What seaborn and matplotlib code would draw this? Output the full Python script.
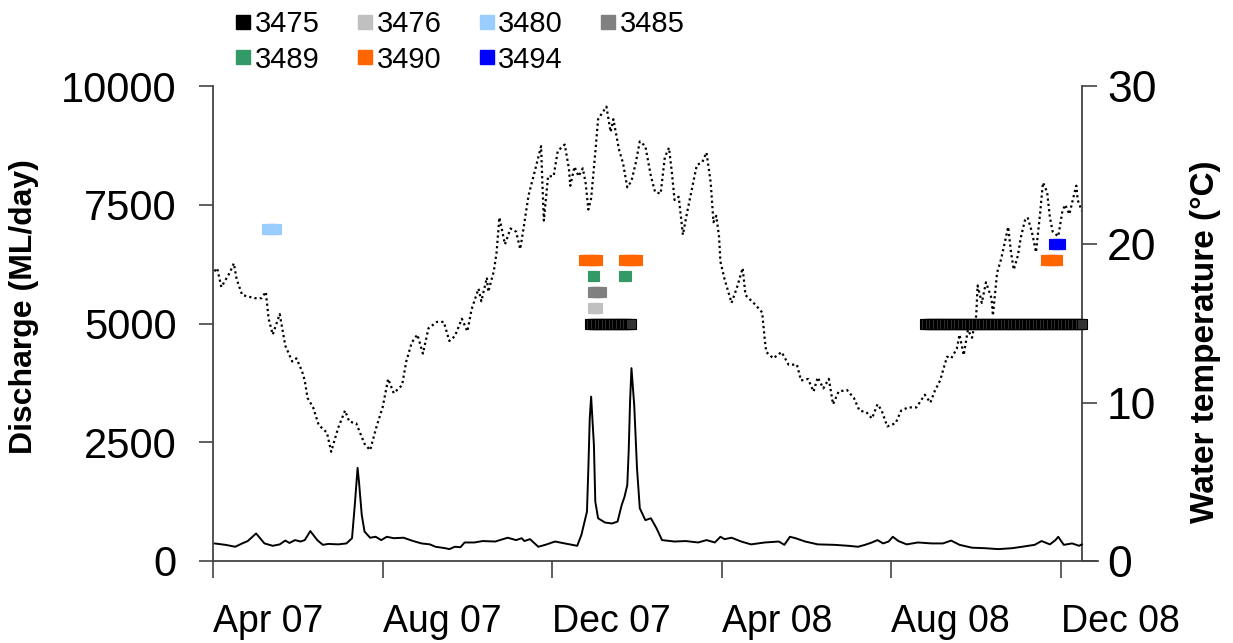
import pandas as pd
import matplotlib
matplotlib.use("Agg")
import matplotlib.pyplot as plt
import matplotlib.dates as mdates
from matplotlib.lines import Line2D
import seaborn as sns

# Dados (dias contados a partir de 1 Abr 2007)
start = pd.Timestamp("2007-04-01")
axis_end_day = 625      # eixo direito
xline_end_day = 636.6   # fim da linha do eixo x

flow_day = [1, 9, 16, 21, 25, 31, 37, 43, 48, 52,
            55, 59, 63, 66, 70, 75, 79, 83, 90, 96,
            100, 102, 104, 105, 107, 109, 113, 117, 121, 125,
            130, 137, 144, 150, 156, 160, 167, 170, 174, 178,
            181, 188, 194, 203, 212, 218, 222, 224, 228, 234,
            239, 246, 253, 262, 265, 269, 270, 271, 272, 274,
            275, 277, 282, 287, 291, 294, 296, 298, 299, 300,
            301, 303, 305, 307, 311, 315, 319, 323, 332, 340,
            349, 355, 361, 365, 368, 373, 380, 387, 397, 407,
            411, 415, 419, 426, 435, 447, 457, 464, 469, 474,
            478, 482, 486, 489, 493, 499, 507, 517, 525, 531,
            537, 546, 555, 565, 575, 582, 591, 596, 602, 606,
            608, 612, 618, 623, 625]
flow_val = [370, 340, 300, 370, 420, 580, 370, 320, 350, 430,
            380, 440, 410, 440, 630, 440, 340, 360, 350, 370,
            480, 1180, 1960, 1670, 970, 620, 490, 510, 440, 510,
            480, 490, 420, 370, 350, 300, 270, 250, 300, 290,
            390, 390, 420, 410, 490, 440, 480, 420, 460, 300,
            340, 410, 370, 320, 550, 1040, 1950, 3000, 3460, 2440,
            1250, 900, 810, 790, 830, 1180, 1350, 1600, 2300, 3350,
            4060, 3280, 1950, 1110, 860, 900, 690, 440, 410, 420,
            390, 440, 390, 510, 460, 490, 410, 350, 390, 410,
            340, 510, 480, 410, 350, 340, 320, 300, 340, 390,
            440, 370, 410, 510, 420, 350, 390, 370, 370, 430,
            340, 280, 270, 250, 270, 300, 340, 420, 350, 440,
            510, 340, 370, 320, 350]

temp_day = [1, 3, 6, 12, 15, 17, 21, 30, 35, 38, 40, 43, 48, 52, 57, 60, 64, 66, 68, 72,
            76, 82, 85, 90, 95, 98, 103, 109, 113, 118, 122, 126, 130, 136, 139, 143, 147, 151, 155, 161,
            166, 170, 174, 179, 183, 186, 191, 193, 197, 198, 202, 204, 206, 210, 214, 218, 221, 223, 227, 232,
            236, 237, 238, 241, 245, 248, 253, 256, 257, 260, 263, 266, 268, 270, 272, 275, 277, 280, 283, 286,
            288, 292, 295, 298, 301, 304, 307, 311, 315, 318, 322, 325, 328, 330, 332, 335, 338, 341, 344, 348,
            352, 355, 358, 360, 362, 364, 365, 368, 373, 377, 381, 383, 390, 395, 397, 398, 403, 409, 414, 420,
            423, 428, 432, 435, 439, 443, 446, 450, 456, 461, 465, 470, 474, 478, 481, 485, 491, 495, 500, 506,
            512, 516, 519, 523, 528, 531, 535, 537, 540, 543, 546, 549, 550, 553, 556, 560, 561, 564, 567, 572,
            574, 576, 579, 581, 584, 586, 589, 592, 595, 597, 600, 602, 604, 608, 611, 613, 616, 619, 621, 622,
            625]
temp_val = [18.3, 18.5, 17.3, 18.2, 18.8, 17.8, 16.8, 16.6, 16.6, 17.0, 15.3, 14.3, 15.6, 13.6, 12.6, 12.8, 12.0, 11.4, 10.3, 9.7,
            8.6, 8.1, 6.9, 8.4, 9.5, 8.8, 8.7, 7.4, 7.0, 8.6, 9.7, 11.5, 10.6, 11.1, 12.6, 13.8, 14.3, 13.1, 14.7, 15.1,
            15.1, 13.9, 14.2, 15.3, 14.5, 15.9, 17.2, 16.4, 17.9, 17.0, 18.3, 19.5, 21.7, 20.0, 21.0, 20.8, 19.7, 20.8, 23.1, 24.8,
            26.2, 23.7, 21.5, 24.3, 24.3, 25.9, 26.3, 24.8, 23.7, 24.9, 24.3, 24.8, 23.9, 22.2, 22.9, 25.8, 27.9, 28.3, 28.7, 27.1,
            27.9, 26.0, 25.1, 23.6, 24.0, 25.1, 26.5, 26.2, 24.3, 23.3, 23.2, 25.5, 26.1, 24.6, 22.8, 23.0, 20.6, 22.0, 23.3, 25.0,
            25.2, 25.8, 23.9, 21.4, 21.8, 20.5, 18.9, 17.8, 16.3, 17.3, 18.5, 16.8, 16.2, 15.7, 13.9, 13.2, 12.8, 13.2, 12.4, 12.4,
            11.4, 11.5, 10.7, 11.6, 10.9, 11.5, 9.9, 10.7, 10.8, 10.3, 9.5, 9.4, 9.0, 9.9, 9.5, 8.5, 8.7, 9.5, 9.7, 9.7,
            10.5, 10.0, 10.7, 11.4, 12.9, 12.8, 13.4, 14.3, 13.0, 14.6, 14.1, 15.5, 17.4, 16.3, 17.6, 16.6, 15.5, 18.2, 19.1, 21.1,
            19.5, 18.4, 19.3, 20.4, 21.5, 21.7, 20.8, 19.5, 22.0, 23.9, 23.3, 21.7, 20.8, 20.5, 22.1, 22.5, 21.9, 23.0, 23.7, 22.8,
            22.1]

sites = ["3475", "3476", "3480", "3485", "3489", "3490", "3494"]
site_colors = ["#333333", "#C0C0C0", "#99CCFF", "#808080", "#339966", "#FF6600", "#0000FF"]
site_edges = ["#000000", "#C0C0C0", "#99CCFF", "#808080", "#339966", "#FF6600", "#0000FF"]
site_level = [5000, 5333, 7000, 5667, 6000, 6333, 6667]
site_periods = [
    [("2007-12-28", "2008-01-27"), ("2008-08-25", "2008-12-16")],
    [("2007-12-30", "2008-01-02")],
    [("2007-05-10", "2007-05-16")],
    [("2007-12-30", "2008-01-05")],
    [("2007-12-30", "2007-12-31"), ("2008-01-22", "2008-01-23")],
    [("2007-12-24", "2008-01-02"), ("2008-01-22", "2008-01-31"), ("2008-11-20", "2008-11-28")],
    [("2008-11-26", "2008-11-30")],
]

tick_dates = ["2007-04-01", "2007-08-01", "2007-12-01", "2008-04-01", "2008-08-01", "2008-12-01"]
tick_labels = ["Apr 07", "Aug 07", "Dec 07", "Apr 08", "Aug 08", "Dec 08"]

flow_dates = start + pd.to_timedelta(flow_day, unit="D")
temp_dates = start + pd.to_timedelta(temp_day, unit="D")

sns.set_style("ticks")
plt.rcParams["font.family"] = ["Liberation Sans", "DejaVu Sans"]
plt.rcParams["text.color"] = "black"
plt.rcParams["axes.labelcolor"] = "black"
axis_col = "#444444"

fig = plt.figure(figsize=(12.33, 6.43), dpi=100)
ax = fig.add_axes([213 / 1233, 82 / 643, 885 / 1233, 475 / 643])
ax2 = ax.twinx()

# temperatura (eixo direito, pontilhado)
sns.lineplot(x=temp_dates, y=temp_val, ax=ax2, color="black", lw=1.6,
             linestyle=(0, (1, 1.4)))

# vazão (eixo esquerdo)
sns.lineplot(x=flow_dates, y=flow_val, ax=ax, color="black", lw=1.4)

# períodos de detecção por local
for site, fc, ec, lvl, periods in zip(sites, site_colors, site_edges, site_level, site_periods):
    for a, b in periods:
        d = pd.date_range(a, b, freq="D")
        sns.scatterplot(x=d, y=[lvl] * len(d), ax=ax, marker="s", s=58,
                        color=fc, edgecolor=ec, linewidth=0.8, legend=False, zorder=4)

ax.set_zorder(ax2.get_zorder() + 1)
ax.patch.set_visible(False)

ax.set_xlim(start, start + pd.Timedelta(days=xline_end_day))
ax.set_ylim(0, 10000)
ax2.set_ylim(0, 30)
ax.set_yticks([0, 2500, 5000, 7500, 10000])
ax2.set_yticks([0, 10, 20, 30])
ax.set_xticks(pd.to_datetime(tick_dates))
ax.set_xticklabels(tick_labels, ha="left")

for s in ["top", "right"]:
    ax.spines[s].set_visible(False)
for s in ["top", "left", "bottom"]:
    ax2.spines[s].set_visible(False)
ax2.spines["right"].set_position(("data", mdates.date2num(start + pd.Timedelta(days=axis_end_day))))
for sp in [ax.spines["left"], ax.spines["bottom"], ax2.spines["right"]]:
    sp.set_color(axis_col)
    sp.set_linewidth(1.3)

ax.tick_params(axis="y", direction="out", length=10, width=1.2, color=axis_col,
               labelcolor="black", pad=16, labelsize=30)
ax.tick_params(axis="x", direction="out", length=12, width=1.2, color=axis_col,
               labelcolor="black", pad=19, labelsize=27)
ax2.tick_params(axis="y", direction="out", length=11, width=1.2, color=axis_col,
                labelcolor="black", pad=7, labelsize=32)

ax.set_xlabel("")
ax.set_ylabel("Discharge (ML/day)", fontsize=23, fontweight="bold")
ax.yaxis.set_label_coords(-0.197, 0.535)
ax2.set_ylabel("Water temperature (°C)", fontsize=24, fontweight="bold", rotation=90)
ax2.yaxis.set_label_coords(1.104, 0.461)

handles = [Line2D([], [], marker="s", ls="none", markersize=9.5,
                  markerfacecolor=("#000000" if i == 0 else c), markeredgecolor=("#000000" if i == 0 else c))
           for i, c in enumerate(site_colors)]
order = [0, 4, 1, 5, 2, 6, 3]
fig.legend([handles[i] for i in order], [sites[i] for i in order], ncol=4,
           loc="upper left", bbox_to_anchor=(230 / 1233, 1 - 4 / 643), frameon=False,
           fontsize=21, handlelength=0.5, handletextpad=0.15, columnspacing=1.3,
           labelspacing=0.27, borderpad=0.2, borderaxespad=0)

fig.savefig("out.png", dpi=100)
